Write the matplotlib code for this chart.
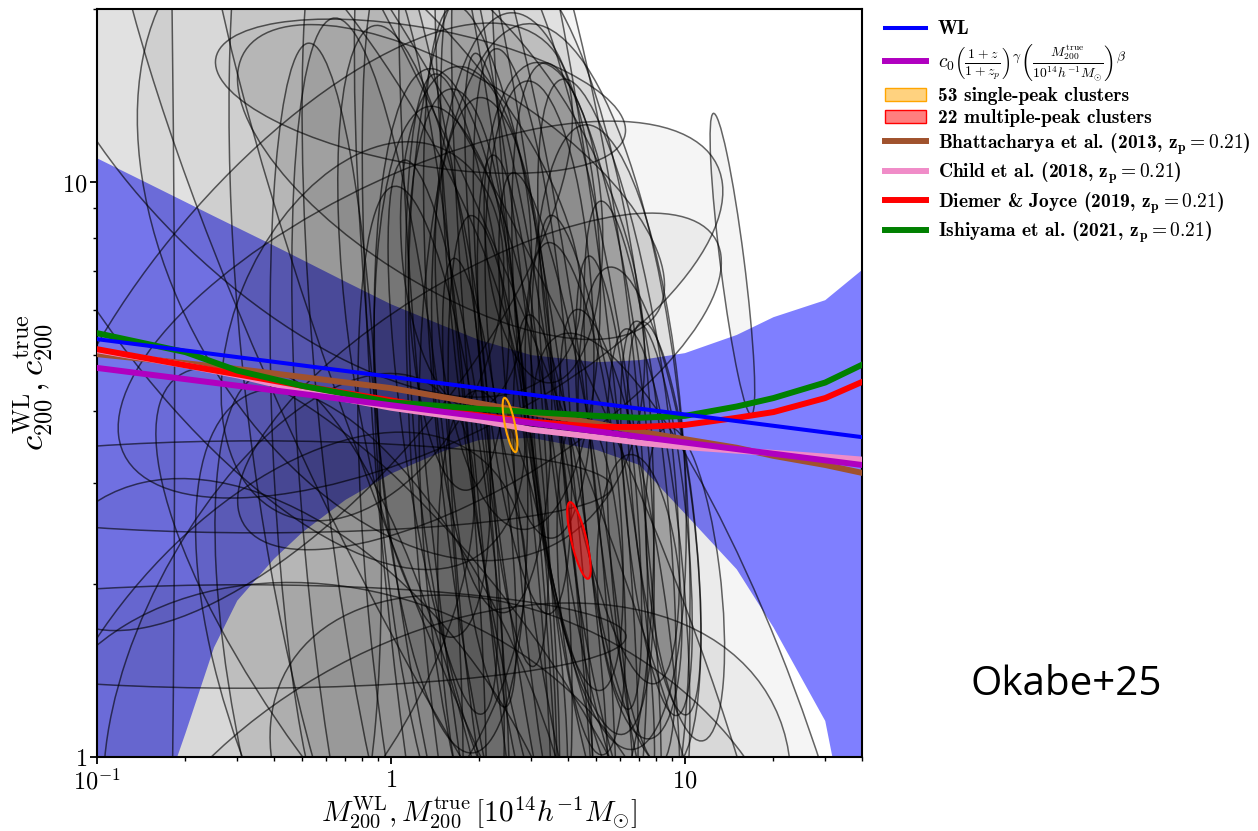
import matplotlib
matplotlib.use("Agg")
import matplotlib.pyplot as plt
import numpy as np
from matplotlib.patches import Ellipse, Patch
from matplotlib.lines import Line2D
from matplotlib.ticker import NullFormatter

plt.rcParams.update({
    "mathtext.fontset": "cm",
    "font.family": "serif",
    "font.serif": ["DejaVu Serif"],
    "axes.unicode_minus": False,
})

# WL c-M fit and its band (edges read at fixed masses)
wl_mass = [0.1, 40.0]
wl_conc = [5.33, 3.60]
band_mass = [0.1, 0.15, 0.2, 0.25, 0.3, 0.4, 0.5, 0.7, 1.0, 1.5, 2.0, 3.0,
             5.0, 7.0, 10.0, 15.0, 20.0, 30.0, 40.0]
band_high = [11.0, 9.93, 9.23, 8.72, 8.33, 7.75, 7.32, 6.71, 6.13, 5.63, 5.31,
             5.00, 4.86, 4.90, 5.04, 5.42, 5.82, 6.23, 7.03]
band_low = [0.30, 0.72, 1.10, 1.55, 1.87, 2.21, 2.46, 2.80, 3.11, 3.40, 3.56,
            3.59, 3.42, 3.22, 2.65, 2.12, 1.68, 1.155, 0.55]

# power-law model with redshift term
model_mass = [0.1, 40.0]
model_conc = [4.75, 3.22]

# literature relations at z_p = 0.21
lit_mass = [0.1, 0.2, 0.3, 0.5, 1.0, 2.0, 3.0, 5.0, 7.0, 10.0, 15.0, 20.0, 30.0, 40.0]
bhattacharya = [5.02, 4.84, 4.73, 4.58, 4.38, 4.12, 3.97, 3.80, 3.68, 3.57, 3.45, 3.34, 3.22, 3.12]
child = [5.10, 4.80, 4.61, 4.33, 4.05, 3.85, 3.71, 3.60, 3.52, 3.46, 3.41, 3.38, 3.33, 3.29]
diemer = [5.12, 4.80, 4.63, 4.42, 4.17, 3.93, 3.83, 3.75, 3.75, 3.78, 3.89, 3.98, 4.21, 4.49]
ishiyama = [5.46, 5.06, 4.70, 4.42, 4.14, 4.03, 3.98, 3.92, 3.89, 3.92, 4.07, 4.21, 4.48, 4.81]

# individual cluster error ellipses: centre (M, c), semi-axes in dex, tilt in log space
ell_mass = [2.0, 2.5, 1.6, 3.0, 2.2, 3.5, 1.3, 4.0, 2.8, 1.9,
            5.0, 2.4, 3.2, 1.1, 6.0, 2.1, 4.5, 1.7, 3.8, 2.6,
            7.0, 1.4, 3.0, 2.0, 5.5, 1.2, 6.5, 2.9, 4.2, 2.3,
            7.5, 5.5, 3.6, 1.5, 2.7, 5.5, 8.0, 4.8, 8.5, 7.0,
            10.0, 1.8, 3.3, 2.4, 3.9, 14.5, 1.45, 12.1,
            0.5, 0.3, 0.05, 1.0,
            0.355, 0.316, 1.26, 0.5, 1.5, 0.8, 3.0, 0.5, 1.26, 2.0,
            0.6, 0.9, 0.8, 1.6, 2.0, 1.5, 0.4, 0.7, 1.2,
            2.0, 1.0, 0.45]
ell_conc = [3.2, 3.0, 4.0, 2.8, 5.0, 3.5, 3.0, 2.2, 5.5, 2.5,
            2.6, 2.0, 6.0, 3.8, 2.0, 3.4, 4.2, 6.5, 1.7, 4.0,
            2.6, 1.8, 4.0, 3.0, 3.6, 5.5, 3.0, 2.4, 3.2, 4.5,
            2.0, 4.5, 2.7, 3.6, 7.0, 3.0, 2.6, 2.0, 2.6, 1.9,
            2.0, 8.0, 8.5, 1.4, 5.2, 7.2, 4.8, 1.01,
            12.6, 10.0, 4.0, 8.0,
            2.95, 1.62, 14.1, 0.8, 0.6, 0.9, 0.8, 5.6, 6.0, 4.5,
            3.5, 2.5, 5.5, 10.0, 3.0, 4.0, 1.2, 0.7, 1.3,
            2.0, 1.1, 1.6]
ell_major = [1.10, 0.85, 0.60, 0.80, 0.45, 0.95, 0.90, 0.70, 0.50, 0.75,
             0.55, 0.65, 0.40, 1.00, 0.50, 1.20, 0.60, 0.35, 0.55, 0.45,
             0.45, 0.75, 0.80, 0.40, 0.55, 0.55, 0.50, 1.10, 0.40, 0.85,
             0.45, 0.55, 0.85, 0.50, 0.45, 0.40, 0.35, 0.30, 0.35, 0.25,
             0.28, 0.30, 0.28, 0.50, 0.90, 0.27, 1.30, 0.90,
             1.00, 1.10, 4.00, 0.90,
             1.20, 1.30, 0.70, 1.00, 1.20, 0.80, 0.90, 1.00, 1.05, 0.85,
             0.70, 0.90, 0.50, 0.75, 1.50, 1.60, 0.90, 1.10, 1.00,
             0.90, 0.80, 0.70]
ell_minor = [0.18, 0.22, 0.25, 0.12, 0.20, 0.28, 0.16, 0.14, 0.14, 0.30,
             0.12, 0.15, 0.18, 0.28, 0.14, 0.35, 0.20, 0.17, 0.12, 0.10,
             0.18, 0.22, 0.40, 0.09, 0.25, 0.22, 0.12, 0.15, 0.14, 0.12,
             0.12, 0.18, 0.45, 0.13, 0.28, 0.09, 0.10, 0.11, 0.10, 0.14,
             0.12, 0.22, 0.20, 0.20, 0.15, 0.04, 0.65, 0.30,
             0.35, 0.45, 0.565, 0.50,
             0.08, 0.09, 0.12, 0.50, 0.45, 0.35, 0.35, 0.35, 0.25, 0.20,
             0.18, 0.25, 0.30, 0.20, 0.30, 0.40, 0.40, 0.45, 0.30,
             0.20, 0.40, 0.35]
ell_angle = [101, 103, 98, 104, 96, 106, 99, 106, 101, 103,
             107, 100, 97, 102, 108, 104, 104, 95, 102, 99,
             105, 101, 100, 103, 100, 106, 102, 101, 104, 102,
             100, 108, 98, 106, 94, 100, 102, 98, 103, 100,
             104, 100, 98, 102, 103, 104, 105, 128,
             -20, -30, 90, 160,
             0, 0, -5, 160, 10, 120, 170, 25, 12, 15,
             95, 100, 20, -15, 128, 135, 20, 175, 150,
             100, 140, 30]

# stacked ellipses of the two subsamples
stack_mass = [2.54, 4.36]
stack_conc = [3.78, 2.38]
stack_major = [0.051, 0.074]
stack_minor = [0.016, 0.024]
stack_angle = [113.5, 117.3]

fig = plt.figure(figsize=(12.58, 8.31), dpi=100)
ax = fig.add_axes([0.0771, 0.0891, 0.6081, 0.9001])
ax.set_xscale("log")
ax.set_yscale("log")
ax.set_xlim(0.1, 40)
ax.set_ylim(1, 20)
ax.set_autoscale_on(False)

# patches placed in (log M, log c) space
log_space = ax.transLimits + ax.transAxes

ax.fill_between(band_mass, band_low, band_high, color="blue", alpha=0.5,
                lw=0, zorder=1)

for m, c, a, b, ang in zip(ell_mass, ell_conc, ell_major, ell_minor, ell_angle):
    e = Ellipse((np.log10(m), np.log10(c)), 2 * a, 2 * b, angle=ang,
                transform=log_space, facecolor=(0, 0, 0, 0.04),
                edgecolor=(0, 0, 0, 0.6), lw=1.1, zorder=2)
    ax.add_patch(e)

ax.plot(lit_mass, bhattacharya, color="#a0522d", lw=4.3, zorder=3)
ax.plot(lit_mass, child, color="#f08cc8", lw=4.3, zorder=3)
ax.plot(lit_mass, diemer, color="red", lw=4.3, zorder=3)
ax.plot(lit_mass, ishiyama, color="green", lw=4.3, zorder=3)
ax.plot(model_mass, model_conc, color="#b000c0", lw=4.3, zorder=4)
ax.plot(wl_mass, wl_conc, color="blue", lw=2.9, zorder=4)

stack_face = [(1.0, 0.65, 0.0, 0.15), (1.0, 0.0, 0.0, 0.5)]
stack_edge = ["orange", "red"]
for i in range(2):
    e = Ellipse((np.log10(stack_mass[i]), np.log10(stack_conc[i])),
                2 * stack_major[i], 2 * stack_minor[i], angle=stack_angle[i],
                transform=log_space, facecolor=stack_face[i],
                edgecolor=stack_edge[i], lw=1.5, zorder=5)
    ax.add_patch(e)

ax.set_xticks([0.1, 1, 10], labels=[r"$10^{-1}$", r"$1$", r"$10$"])
ax.set_yticks([1, 10], labels=[r"$1$", r"$10$"])
ax.xaxis.set_minor_formatter(NullFormatter())
ax.yaxis.set_minor_formatter(NullFormatter())
ax.tick_params(which="major", length=5, width=1.3, labelsize=17.5)
ax.tick_params(which="minor", length=3, width=1.0)
ax.tick_params(axis="x", which="major", pad=4)
ax.tick_params(axis="y", which="major", pad=2)
for sp in ax.spines.values():
    sp.set_linewidth(1.5)

fig.text(0.3812, 0.001,
         r"$M_{200}^{\rm WL}, M_{200}^{\rm true}\,[10^{14}h^{-1}M_{\odot}]$",
         fontsize=21, ha="center", va="bottom")
ax.set_ylabel(r"$\boldsymbol{c_{200}^{\rm WL}, c_{200}^{\rm true}}$",
              fontsize=25, labelpad=4)

handles = [
    Line2D([], [], color="blue", lw=2.9),
    Line2D([], [], color="#b000c0", lw=4.3),
    Patch(facecolor=(1.0, 0.65, 0.0, 0.5), edgecolor="orange"),
    Patch(facecolor=(1.0, 0.0, 0.0, 0.5), edgecolor="red"),
    Line2D([], [], color="#a0522d", lw=4.3),
    Line2D([], [], color="#f08cc8", lw=4.3),
    Line2D([], [], color="red", lw=4.3),
    Line2D([], [], color="green", lw=4.3),
]
labels = [
    "WL",
    r"$c_0\left(\frac{1+z}{1+z_p}\right)^{\gamma}"
    r"\left(\frac{M_{200}^{\rm true}}{10^{14}h^{-1}M_{\odot}}\right)^{\beta}$",
    "53 single-peak clusters",
    "22 multiple-peak clusters",
    r"Bhattacharya et al. (2013, $\mathbf{z_p=0.21}$)",
    r"Child et al. (2018, $\mathbf{z_p=0.21}$)",
    r"Diemer & Joyce (2019, $\mathbf{z_p=0.21}$)",
    r"Ishiyama et al. (2021, $\mathbf{z_p=0.21}$)",
]
ax.legend(handles, labels, loc="upper left", bbox_to_anchor=(1.02, 0.995),
          frameon=False, borderaxespad=0, handlelength=2.1, handletextpad=0.62,
          labelspacing=0.2, prop={"family": "cmb10", "size": 14})

fig.text(0.8474, 1 - 695 / 831, "Okabe+25", fontsize=29, family="Open Sans",
         ha="center", va="baseline")

fig.savefig("out.png", dpi=100)
